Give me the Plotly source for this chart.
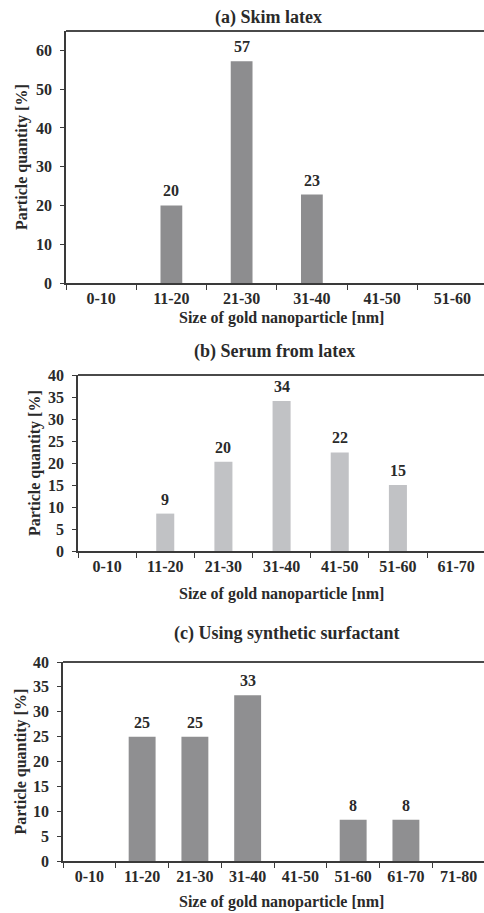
import plotly.graph_objects as go

# ---- data ----
cats_a = ["0-10", "11-20", "21-30", "31-40", "41-50", "51-60"]
vals_a = [0, 20, 57.2, 22.8, 0, 0]
lbls_a = ["", "20", "57", "23", "", ""]

cats_b = ["0-10", "11-20", "21-30", "31-40", "41-50", "51-60", "61-70"]
vals_b = [0, 8.5, 20.3, 34.1, 22.4, 15.0, 0]
lbls_b = ["", "9", "20", "34", "22", "15", ""]

cats_c = ["0-10", "11-20", "21-30", "31-40", "41-50", "51-60", "61-70", "71-80"]
vals_c = [0, 25.0, 25.0, 33.3, 0, 8.3, 8.3, 0]
lbls_c = ["", "25", "25", "33", "", "8", "8", ""]

titles = ["(a) Skim latex", "(b) Serum from latex", "(c) Using synthetic surfactant"]
xtitle = "Size of gold nanoparticle [nm]"
ytitle = "Particle quantity [%]"

W, H = 484, 913
FONT = "Liberation Serif, Times New Roman, DejaVu Serif, serif"
AX = "#3a3a3a"
TXT = "#2a2a2a"

def py(px):
    return 1 - px / H

def pxx(px):
    return px / W

panels = [
    dict(cats=cats_a, vals=vals_a, lbls=lbls_a, color="#8d8d8f", width=0.31,
         xdom=[pxx(66), 1], xr=[-0.5, 5.45], ydom=[py(283), py(31)], yr=[0, 65], dt=10,
         title_xy=(268, 17), ytitle_x=22, xtitle_y=318),
    dict(cats=cats_b, vals=vals_b, lbls=lbls_b, color="#c1c2c5", width=0.31,
         xdom=[pxx(78), 1], xr=[-0.5, 6.48], ydom=[py(551), py(375)], yr=[0, 40], dt=5,
         title_xy=(274, 351), ytitle_x=35, xtitle_y=594),
    dict(cats=cats_c, vals=vals_c, lbls=lbls_c, color="#8f8f91", width=0.51,
         xdom=[pxx(63), 1], xr=[-0.5, 7.48], ydom=[py(861), py(662)], yr=[0, 40], dt=5,
         title_xy=(286, 633), ytitle_x=20, xtitle_y=902),
]

fig = go.Figure()
annotations = []
shapes = []
for i, p in enumerate(panels, start=1):
    xa = "x" if i == 1 else f"x{i}"
    ya = "y" if i == 1 else f"y{i}"
    fig.add_trace(go.Bar(
        x=p["cats"], y=p["vals"], xaxis=xa, yaxis=ya,
        marker=dict(color=p["color"], line=dict(width=0)),
        width=p["width"], showlegend=False, hoverinfo="skip",
    ))
    for c, v, t in zip(p["cats"], p["vals"], p["lbls"]):
        if t:
            annotations.append(dict(
                x=c, y=v, xref=xa, yref=ya, text=f"<b>{t}</b>", showarrow=False,
                yanchor="bottom", yshift=4,
                font=dict(family=FONT, size=16, color=TXT)))
    axkey = "xaxis" if i == 1 else f"xaxis{i}"
    aykey = "yaxis" if i == 1 else f"yaxis{i}"
    fig.update_layout(**{
        axkey: dict(domain=p["xdom"], anchor=ya, range=p["xr"], type="category",
                    showline=True, linecolor=AX, linewidth=1.5, ticks="outside",
                    tickson="boundaries", ticklen=5, tickcolor=AX, tickwidth=1.2,
                    showgrid=False, zeroline=False, automargin=False,
                    tickfont=dict(family=FONT, size=16, color=TXT),
                    tickprefix="<b>", ticksuffix="</b>", fixedrange=True),
        aykey: dict(domain=p["ydom"], anchor=xa, range=p["yr"], dtick=p["dt"],
                    showline=True, linecolor=AX, linewidth=1.5, ticks="outside",
                    ticklen=4, tickcolor=AX, tickwidth=1.2, showgrid=False,
                    ticklabelstandoff=5,
                    zeroline=False, automargin=False,
                    tickfont=dict(family=FONT, size=16, color=TXT),
                    tickprefix="<b>", ticksuffix="</b>", fixedrange=True),
    })
    # top border line
    shapes.append(dict(type="line", xref=f"{xa} domain", yref=f"{ya} domain",
                       x0=0, x1=1, y0=1, y1=1,
                       line=dict(color="#4a4a4a", width=2)))
    # panel title
    tx, ty = p["title_xy"]
    annotations.append(dict(x=pxx(tx), y=py(ty), xref="paper", yref="paper",
                            text=f"<b>{titles[i-1]}</b>", showarrow=False,
                            xanchor="center", yanchor="middle",
                            font=dict(family=FONT, size=18, color=TXT)))
    # x axis title
    annotations.append(dict(x=pxx(281), y=py(p["xtitle_y"]), xref="paper", yref="paper",
                            text=f"<b>{xtitle}</b>", showarrow=False,
                            xanchor="center", yanchor="middle",
                            font=dict(family=FONT, size=16, color=TXT)))
    # y axis title
    ymid = (p["ydom"][0] + p["ydom"][1]) / 2
    annotations.append(dict(x=pxx(p["ytitle_x"]), y=ymid, xref="paper", yref="paper",
                            text=f"<b>{ytitle}</b>", showarrow=False, textangle=-90,
                            xanchor="center", yanchor="middle",
                            font=dict(family=FONT, size=16, color=TXT)))

fig.update_layout(width=W, height=H, margin=dict(l=0, r=0, t=0, b=0),
                  paper_bgcolor="white", plot_bgcolor="white",
                  annotations=annotations, shapes=shapes, bargap=0.5)
fig.write_html("out.html", config={"displayModeBar": False},
               post_script="document.body.style.margin='0';document.body.style.overflow='hidden';")
